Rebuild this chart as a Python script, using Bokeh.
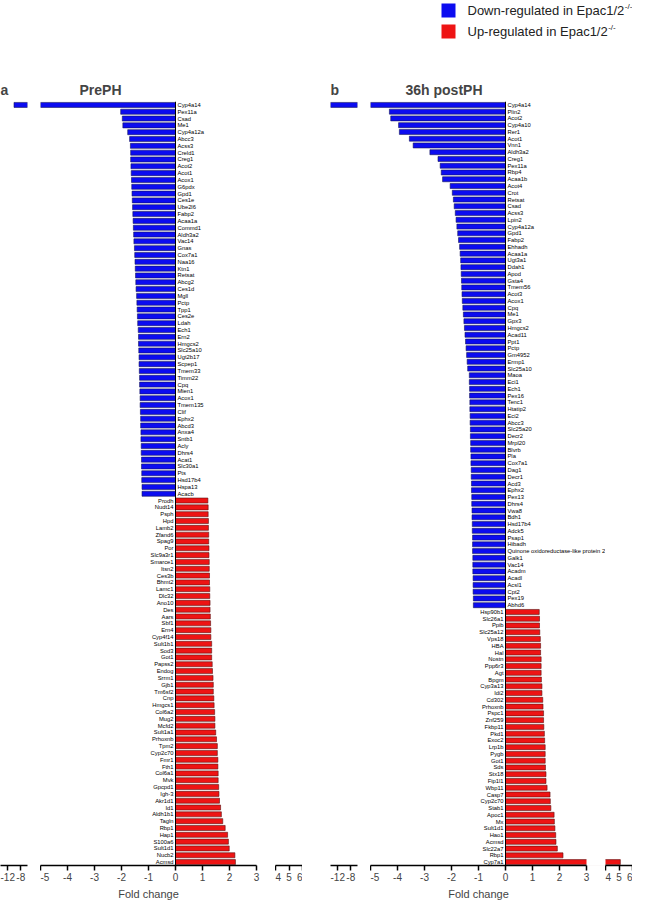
import numpy as np
from bokeh.plotting import figure
from bokeh.models import (Range1d, FixedTicker, Span, Title, ColumnDataSource, LabelSet, Spacer,
                          CDSView, BooleanFilter, BoxAnnotation)
from bokeh.layouts import row, column
from bokeh.embed import file_html
from bokeh.resources import INLINE
from bokeh.core.properties import value

# ---------------- data ----------------
a_down_genes = ["Cyp4a14", "Pex11a", "Csad", "Me1", "Cyp4a12a", "Abcc3", "Acss3", "Creld1", "Creg1", "Acot2",
                "Acot1", "Acox1", "G6pdx", "Gpd1", "Ces1e", "Ube2l6", "Fabp2", "Acaa1a", "Commd1", "Aldh3a2",
                "Vac14", "Gnas", "Cox7a1", "Naa16", "Ktn1", "Retsat", "Abcg2", "Ces1d", "Mgll", "Pctp",
                "Tpp1", "Ces2e", "Ldah", "Ech1", "Ern2", "Hmgcs2", "Slc25a10", "Ugt2b17", "Scpep1", "Tmem33",
                "Timm22", "Cpq", "Mien1", "Acox1", "Tmem135", "Clif", "Ephx2", "Abcd3", "Anxa4", "Sntb1",
                "Acly", "Dhrs4", "Acat1", "Slc30a1", "Pts", "Hsd17b4", "Hspa13", "Acacb"]
a_down_vals = [-10.0, -2.03, -1.97, -1.95, -1.77, -1.70, -1.67, -1.66, -1.66, -1.65,
               -1.64, -1.63, -1.62, -1.61, -1.60, -1.59, -1.58, -1.57, -1.56, -1.55,
               -1.54, -1.52, -1.51, -1.50, -1.49, -1.48, -1.47, -1.46, -1.44, -1.43,
               -1.42, -1.41, -1.40, -1.38, -1.37, -1.37, -1.36, -1.35, -1.35, -1.34,
               -1.33, -1.33, -1.32, -1.31, -1.31, -1.30, -1.29, -1.29, -1.28, -1.28,
               -1.27, -1.27, -1.26, -1.26, -1.25, -1.25, -1.24, -1.24]
a_up_genes = ["Prodh", "Nudt14", "Psph", "Hpd", "Lamb2", "Zfand6", "Spag9", "Por", "Slc9a3r1", "Smarce1",
              "Itsn2", "Ces3b", "Bhmt2", "Lamc1", "Dlc32", "Ano10", "Des", "Aars", "Sbf1", "Ern4",
              "Cyp4f14", "Sult1b1", "Sod3", "Got1", "Papss2", "Endog", "Srrm1", "Gjb1", "Tm6sf2", "Cnp",
              "Hmgcs1", "Col6a2", "Mug2", "Mcfd2", "Sult1a1", "Prhoxnb", "Tpm2", "Cyp2c70", "Fmr1", "Fth1",
              "Col6a1", "Mvk", "Gpcpd1", "Igh-3", "Akr1d1", "Id1", "Aldh1b1", "Tagln", "Rbp1", "Hap1",
              "S100a6", "Sult1d1", "Nucb2", "Acmsd"]
a_up_vals = [1.20, 1.21, 1.21, 1.22, 1.22, 1.23, 1.23, 1.24, 1.24, 1.25,
             1.25, 1.26, 1.26, 1.27, 1.27, 1.28, 1.28, 1.29, 1.30, 1.31,
             1.31, 1.34, 1.34, 1.34, 1.36, 1.37, 1.39, 1.40, 1.40, 1.42,
             1.43, 1.45, 1.46, 1.46, 1.49, 1.52, 1.55, 1.55, 1.57, 1.57,
             1.58, 1.58, 1.60, 1.61, 1.63, 1.67, 1.70, 1.75, 1.84, 1.93,
             1.96, 1.99, 2.20, 2.22]

b_down_genes = ["Cyp4a14", "Plin2", "Acot2", "Cyp4a10", "Rer1", "Acot1", "Vnn1", "Aldh3a2", "Creg1", "Pex11a",
                "Rbp4", "Acaa1b", "Acot4", "Crot", "Retsat", "Csad", "Acss3", "Lpin2", "Cyp4a12a", "Gpd1",
                "Fabp2", "Ehhadh", "Acaa1a", "Ugt3a1", "Ddah1", "Apod", "Gsta4", "Tmem56", "Acot3", "Acox1",
                "Cpq", "Me1", "Gpx3", "Hmgcs2", "Acad11", "Ppt1", "Pctp", "Gm4952", "Ermp1", "Slc25a10",
                "Maoa", "Eci1", "Ech1", "Pex16", "Tenc1", "Htatip2", "Eci2", "Abcc3", "Slc25a20", "Decr2",
                "Mrpl20", "Blvrb", "Pla", "Cox7a1", "Dag1", "Decr1", "Acd3", "Ephx2", "Pex13", "Dhrs4",
                "Vwa8", "Bdh1", "Hsd17b4", "Adck5", "Psap1", "Hibadh", "Quinone oxidoreductase-like protein 2",
                "Galk1", "Vac14", "Acadm", "Acadl", "Acsl1", "Cpt2", "Pex19", "Abhd6"]
b_down_vals = [-14.0, -4.30, -4.25, -3.96, -3.93, -3.56, -3.42, -2.80, -2.50, -2.42,
               -2.38, -2.33, -2.05, -1.97, -1.93, -1.90, -1.86, -1.83, -1.80, -1.77,
               -1.74, -1.70, -1.68, -1.66, -1.65, -1.64, -1.63, -1.62, -1.61, -1.60,
               -1.58, -1.56, -1.54, -1.52, -1.50, -1.48, -1.46, -1.44, -1.42, -1.40,
               -1.34, -1.34, -1.33, -1.33, -1.32, -1.32, -1.31, -1.31, -1.30, -1.30,
               -1.29, -1.29, -1.28, -1.28, -1.27, -1.27, -1.26, -1.26, -1.25, -1.25,
               -1.24, -1.24, -1.23, -1.23, -1.22, -1.22, -1.22, -1.21, -1.21, -1.21,
               -1.20, -1.20, -1.20, -1.19, -1.19]
b_up_genes = ["Hsp90b1", "Slc26a1", "Ppib", "Slc25a12", "Vps18", "HBA", "Hal", "Nostn", "Ppp6r3", "Agt",
              "Bpgm", "Cyp3a13", "Idi2", "Cd302", "Prhoxnb", "Pspc1", "Znf259", "Fkbp11", "Pkd1", "Exoc2",
              "Lrp1b", "Pygb", "Got1", "Sds", "Stx18", "Fip1l1", "Wbp11", "Casp7", "Cyp2c70", "Stab1",
              "Apoc1", "Mx", "Sult1d1", "Hao1", "Acmsd", "Slc22a7", "Rbp1", "Cyp7a1"]
b_up_vals = [1.25, 1.26, 1.26, 1.27, 1.29, 1.30, 1.30, 1.32, 1.32, 1.32,
             1.33, 1.35, 1.35, 1.38, 1.39, 1.41, 1.41, 1.42, 1.44, 1.45,
             1.47, 1.47, 1.47, 1.48, 1.50, 1.50, 1.54, 1.65, 1.66, 1.68,
             1.80, 1.81, 1.83, 1.86, 1.87, 1.92, 2.13, 5.10]

seg_ranges = [(-14, -6), (-5, 3), (4, 6)]
seg_ticks = [[-12, -8], [-5, -4, -3, -2, -1, 0, 1, 2, 3], [4, 5, 6]]

legend_labels = ["Down-regulated in Epac1/2", "Up-regulated in Epac1/2"]
legend_sup = "-/-"

# ---------------- style ----------------
FONT = "Liberation Sans"
BLUE, BLUE_EDGE = "#0c0cf0", "#16165a"
RED, RED_EDGE = "#ee1414", "#5a1212"
UNIT = 27                      # px per fold-change unit in the middle segment
SEG_W = [27, 216, 27]
GAP1, GAP2 = 13, 19
FIG_H = 856
TOP, BOTTOM = 55, 37
LEG_H = 46

ARIAL_W = {"D": 722, "o": 556, "w": 722, "n": 556, "-": 333, "r": 333, "e": 556, "g": 556, "u": 556,
           "l": 222, "a": 556, "t": 278, "d": 556, " ": 278, "i": 222, "E": 667, "p": 556, "c": 500,
           "1": 556, "/": 278, "2": 556, "U": 722, "F": 611, "h": 556}


def text_width(s, size):
    return sum(ARIAL_W.get(ch, 556) for ch in s) * size / 1000.0


def make_panel(letter, title, dg, dv, ug, uv, title_offset):
    genes = dg + ug
    vals = dv + uv
    n, nd = len(genes), len(dg)
    src = ColumnDataSource(dict(y=list(range(n)), v=vals,
                                fill=[BLUE] * nd + [RED] * (n - nd),
                                edge=[BLUE_EDGE] * nd + [RED_EDGE] * (n - nd)))
    down_src = ColumnDataSource(dict(y=list(range(nd)), g=dg))
    up_src = ColumnDataSource(dict(y=list(range(nd, n)), g=ug))
    yr = Range1d(n - 0.5, -0.5)
    varr = np.array(vals)
    figs = []
    for k in range(3):
        lo, hi = seg_ranges[k]
        if k == 0:
            mask = varr < hi
            xr = Range1d(lo, hi)
            w, border_r = SEG_W[0] + GAP1, GAP1
        elif k == 2:
            mask = varr > lo
            xr = Range1d(lo, hi)
            w, border_r = SEG_W[2], 0
        else:
            mask = np.ones(n, dtype=bool)
            # middle frame also covers the gap to the right, so long gene names fit
            xr = Range1d(lo, hi + GAP2 / UNIT)
            w, border_r = SEG_W[1] + GAP2, 0
        view = CDSView(filter=BooleanFilter(list(map(bool, mask))))
        p = figure(width=w, height=FIG_H, x_range=xr, y_range=yr,
                   y_axis_location=None, output_backend="svg", toolbar_location=None,
                   min_border_left=0, min_border_right=border_r,
                   min_border_top=TOP, min_border_bottom=BOTTOM,
                   outline_line_color=None)
        p.grid.visible = False
        p.hbar(y="y", left="v", right=0, height=0.74, fill_color="fill",
               line_color="edge", line_width=0.6, source=src, view=view)
        ax = p.xaxis[0]
        ax.bounds = (lo, hi)
        ax.ticker = FixedTicker(ticks=seg_ticks[k])
        ax.major_label_overrides = {t: str(t) for t in seg_ticks[k]}
        ax.major_tick_in = 0
        ax.major_tick_out = 5
        ax.minor_tick_out = 0
        ax.minor_tick_in = 0
        ax.axis_line_width = 1.5
        ax.major_tick_line_width = 1.5
        ax.major_label_text_font = FONT
        ax.major_label_text_font_size = "10px"
        ax.major_label_standoff = 2
        p.title.text_font = FONT
        p.title.text_font_size = "14px"
        p.title.text_font_style = "bold"
        p.title.standoff = 8
        if k == 0:
            p.title.text = letter
            p.title.offset = 0
        if k == 1:
            p.title.text = title
            p.title.offset = title_offset
            # axis break: blank out anything beyond the end of the middle segment
            p.add_layout(BoxAnnotation(left=hi, fill_color="white", fill_alpha=1.0,
                                       line_alpha=0, level="underlay"))
            p.renderers[0].level = "glyph"
            p.add_layout(Span(location=0, dimension="height", line_color="black", line_width=1))
            p.add_layout(LabelSet(x=0, y="y", text="g", source=down_src, x_offset=2,
                                  text_align="left", text_baseline="middle",
                                  text_font=value(FONT), text_font_size="5.8px", text_color="black"))
            p.add_layout(LabelSet(x=0, y="y", text="g", source=up_src, x_offset=-2,
                                  text_align="right", text_baseline="middle",
                                  text_font=value(FONT), text_font_size="5.8px", text_color="black"))
            fc_off = SEG_W[1] / 2 - text_width("Fold change", 11) / 2
            p.add_layout(Title(text="Fold change", align="left", offset=fc_off, text_font=FONT,
                               text_font_size="11px", text_font_style="normal", standoff=4), "below")
        figs.append(p)
    return figs


a_figs = make_panel("a", "PrePH", a_down_genes, a_down_vals, a_up_genes, a_up_vals, 39)
b_figs = make_panel("b", "36h postPH", b_down_genes, b_down_vals, b_up_genes, b_up_vals, 35)

# cover the part of bars that falls in the axis gap (drawn above bars, below labels)
for figs in (a_figs, b_figs):
    p = figs[1]
    box = [r for r in p.center if isinstance(r, BoxAnnotation)][0]
    box.level = "glyph"
    p.center.remove(box)
    p.center.insert(0, box)

# legend
leg = figure(width=632, height=LEG_H, x_range=Range1d(0, 632), y_range=Range1d(LEG_H, 0),
             output_backend="svg", toolbar_location=None, min_border=0,
             x_axis_location=None, y_axis_location=None, outline_line_color=None)
leg.grid.visible = False
leg_y = [10, 31]
leg.rect(x=448, y=leg_y, width=14, height=14, fill_color=[BLUE, RED], line_color=None)
leg.text(x=467, y=leg_y, text=legend_labels, text_font=value(FONT), text_font_size="13px",
         text_baseline="middle", text_color="#222222")
sup_x = [467 + text_width(s, 13) + 0.5 for s in legend_labels]
leg.text(x=sup_x, y=[y - 4 for y in leg_y], text=[legend_sup] * 2, text_font=value(FONT),
         text_font_size="8px", text_baseline="middle", text_color="#222222")

layout = column(leg, row(*a_figs, Spacer(width=28, height=FIG_H), *b_figs))

open("out.html", "w").write(file_html(layout, INLINE))
